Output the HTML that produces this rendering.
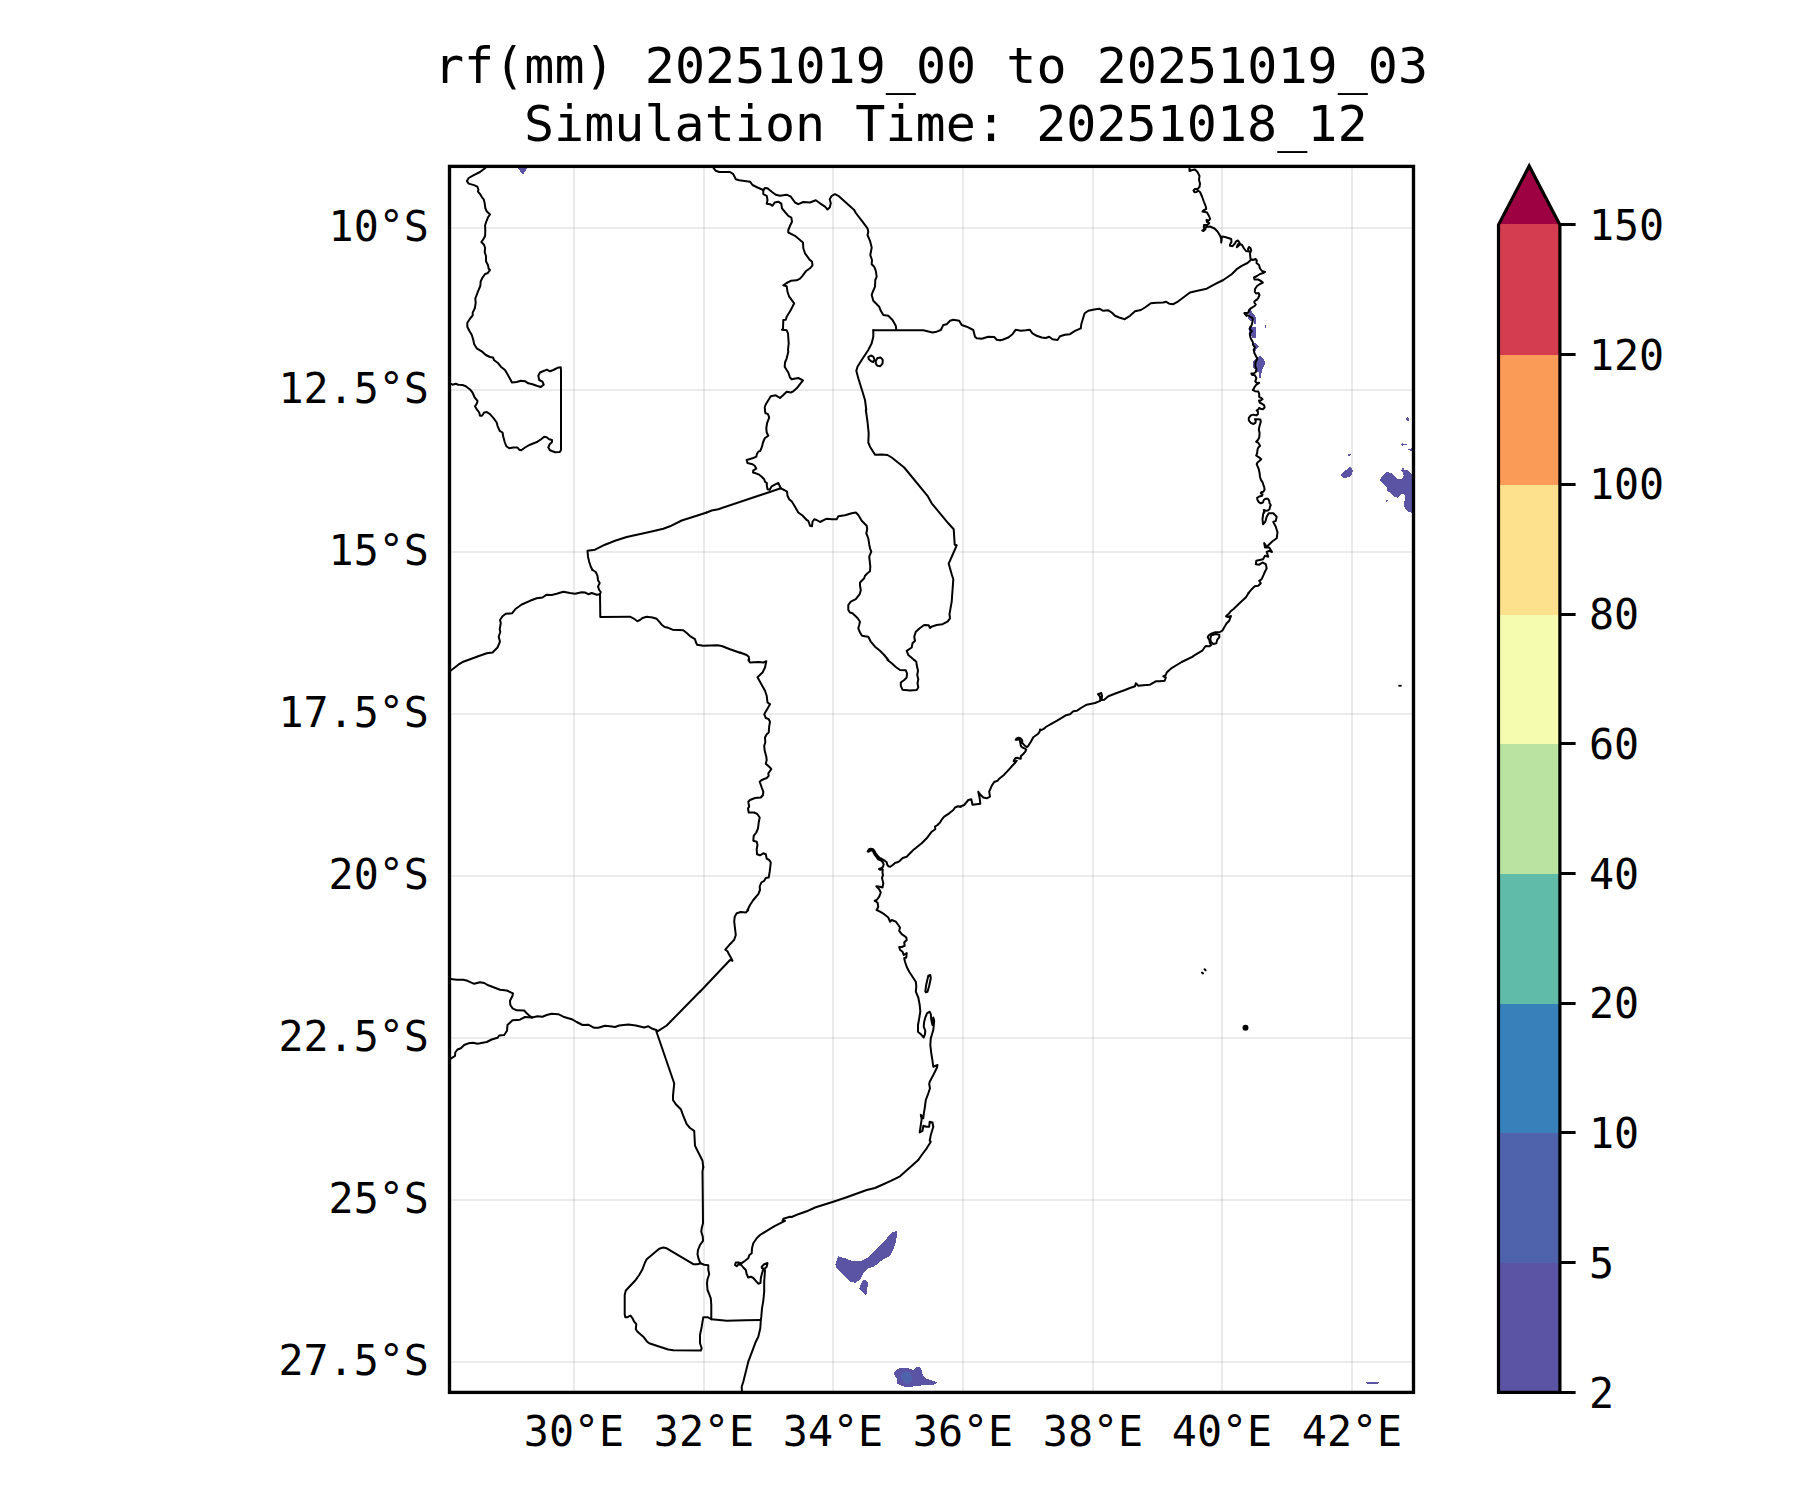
<!DOCTYPE html>
<html lang="en"><head><meta charset="utf-8"><title>rf(mm) 20251019_00 to 20251019_03</title>
<style>html,body{margin:0;padding:0;background:#fff}body{width:1800px;height:1500px;overflow:hidden}svg{display:block}text{font-family:"DejaVu Sans Mono","Liberation Mono",monospace;fill:#000}.t{font-size:50px}.l{font-size:41.67px}</style></head><body>
<svg width="1800" height="1500" viewBox="0 0 1800 1500">
<rect width="1800" height="1500" fill="#fff"/>
<text class="t" x="434.0" y="83" letter-spacing="0.0212">rf(mm) 20251019_00 to 20251019_03</text>
<text class="t" x="523.97" y="140.6" letter-spacing="0.0246">Simulation Time: 20251018_12</text>
<defs><clipPath id="ax"><rect x="449.5" y="166.4" width="964.0" height="1226.0"/></clipPath></defs>
<g clip-path="url(#ax)">
<g shape-rendering="crispEdges">
<path d="M518.0 165.3 527.3 165.3 527.3 168.3 522.9 174.9 518.0 168.3Z" fill="#5b53a4"/>
<path d="M838.3 1256.3 845.0 1258.3 853.3 1261.3 860.0 1261.3 866.7 1258.3 875.0 1250.8 883.3 1242.5 891.7 1232.5 896.7 1230.8 897.5 1233.3 895.8 1241.7 893.3 1250.0 889.2 1256.7 883.3 1259.2 878.3 1263.3 873.3 1266.7 867.5 1268.7 863.3 1273.3 860.0 1280.0 855.0 1282.8 850.0 1281.7 843.3 1275.0 836.7 1268.3 835.3 1265.0 836.7 1260.0Z" fill="#5b53a4"/>
<path d="M862.5 1281.3 865.0 1279.2 867.5 1281.7 868.3 1285.0 866.7 1288.3 867.0 1294.2 865.0 1294.7 859.2 1288.3Z" fill="#5b53a4"/>
<path d="M1248.0 309.3 1250.4 309.0 1251.0 310.8 1253.7 314.1 1255.2 316.2 1256.1 317.4 1256.1 323.7 1254.0 323.7 1253.9 320.4 1250.4 320.7 1248.0 318.0 1249.2 315.0 1248.0 312.0Z" fill="#5b53a4"/>
<path d="M1249.1 326.4 1250.7 326.1 1251.0 327.3 1255.9 327.3 1255.9 330.9 1257.0 331.2 1255.9 331.8 1255.9 337.5 1252.2 337.7 1251.6 336.0 1249.2 335.4 1249.1 330.0Z" fill="#5b53a4"/>
<path d="M1254.0 343.8 1255.2 342.9 1258.8 346.5 1257.3 348.0 1255.5 350.7 1254.3 350.7 1253.7 347.4Z" fill="#5b53a4"/>
<path d="M1253.1 361.5 1254.6 359.4 1257.3 357.6 1259.4 356.1 1260.9 356.1 1263.0 358.2 1264.8 361.2 1264.8 363.6 1263.9 366.9 1262.7 368.7 1261.7 370.8 1261.7 372.9 1260.9 373.1 1260.7 377.7 1259.3 377.7 1259.1 372.9 1257.3 371.4 1255.2 369.0 1253.1 367.8Z" fill="#5b53a4"/>
<path d="M1265.1 325.1 1266.0 325.1 1266.0 327.9 1265.1 327.9Z" fill="#5b53a4"/>
<path d="M1406.0 418.8 1407.4 417.0 1408.8 418.4 1408.8 420.6 1407.2 420.6Z" fill="#5b53a4"/>
<path d="M1401.2 444.4 1402.8 443.2 1404.0 443.8 1406.8 444.0 1406.8 444.8 1404.0 445.0 1402.8 445.8Z" fill="#5b53a4"/>
<path d="M1408.0 449.4 1410.8 448.8 1412.0 448.0 1414.4 448.0 1414.4 451.6 1412.0 451.6 1410.4 450.8Z" fill="#5b53a4"/>
<path d="M1348.0 454.6 1351.0 454.0 1349.6 455.6 1348.4 455.8Z" fill="#5b53a4"/>
<path d="M1341.0 475.0 1345.6 470.4 1350.0 467.0 1351.6 467.8 1352.8 470.8 1351.8 475.2 1348.8 477.4 1343.6 477.8Z" fill="#5b53a4"/>
<path d="M1380.0 480.4 1381.2 477.2 1386.0 472.4 1388.0 472.0 1392.0 473.6 1397.2 478.8 1402.0 478.8 1403.6 476.0 1403.2 472.8 1401.2 470.4 1402.0 468.4 1403.6 468.2 1404.0 469.8 1407.6 470.2 1412.0 474.0 1415.2 474.0 1415.2 512.8 1412.0 512.8 1407.6 511.6 1404.0 506.4 1404.4 501.6 1405.2 498.4 1404.8 494.8 1401.6 494.0 1397.6 497.6 1394.4 496.6 1387.2 490.4 1386.8 487.2 1381.0 481.6Z" fill="#5b53a4"/>
<path d="M1386.0 500.4 1388.0 500.0 1386.8 501.8 1386.0 501.6Z" fill="#5b53a4"/>
<path d="M894.0 1373.3 895.7 1370.3 898.7 1368.7 901.3 1368.0 907.3 1368.0 911.3 1369.3 913.3 1369.7 916.0 1367.3 919.7 1367.0 921.3 1368.7 922.0 1372.0 923.3 1376.0 926.7 1378.7 932.0 1380.7 938.0 1382.1 936.0 1383.7 932.7 1384.8 922.0 1384.8 920.7 1385.7 914.0 1385.9 913.3 1386.7 904.7 1386.8 901.3 1385.9 898.7 1384.3 897.0 1383.7 897.0 1378.7 895.0 1376.3 894.0 1374.7Z" fill="#5b53a4"/>
<path d="M901.0 1374.7 902.7 1372.7 906.0 1371.9 908.7 1372.5 910.7 1374.7 912.7 1378.3 911.3 1381.0 910.0 1383.3 907.3 1384.0 905.3 1383.0 903.0 1380.7 901.3 1378.7Z" fill="#4e63ac"/>
<path d="M1365.1 1382.0 1378.9 1382.0 1377.8 1383.9 1367.1 1383.9Z" fill="#5b53a4"/>
</g>
<g stroke="#808080" stroke-opacity="0.16" stroke-width="2" fill="none" shape-rendering="crispEdges">
<line x1="574" y1="166.4" x2="574" y2="1392.4"/>
<line x1="704" y1="166.4" x2="704" y2="1392.4"/>
<line x1="833" y1="166.4" x2="833" y2="1392.4"/>
<line x1="963" y1="166.4" x2="963" y2="1392.4"/>
<line x1="1093" y1="166.4" x2="1093" y2="1392.4"/>
<line x1="1222" y1="166.4" x2="1222" y2="1392.4"/>
<line x1="1352" y1="166.4" x2="1352" y2="1392.4"/>
<line x1="449.5" y1="228" x2="1413.5" y2="228"/>
<line x1="449.5" y1="390" x2="1413.5" y2="390"/>
<line x1="449.5" y1="552" x2="1413.5" y2="552"/>
<line x1="449.5" y1="714" x2="1413.5" y2="714"/>
<line x1="449.5" y1="876" x2="1413.5" y2="876"/>
<line x1="449.5" y1="1038" x2="1413.5" y2="1038"/>
<line x1="449.5" y1="1200" x2="1413.5" y2="1200"/>
<line x1="449.5" y1="1362" x2="1413.5" y2="1362"/>
</g>
<g stroke="#000" stroke-width="2" fill="none" stroke-linejoin="round" stroke-linecap="round">
<path d="M485.3 168.0 480.0 172.0 473.3 175.3 468.7 178.0 466.9 181.1 468.7 183.6 474.0 185.1 477.3 186.7 478.4 189.3 478.0 191.7 480.0 194.0 482.0 197.3 483.7 199.3 484.7 203.3 485.3 208.0 486.7 211.3 490.0 214.4 488.0 217.3 486.4 221.3 485.1 225.3 485.3 230.7 485.1 236.0 483.3 239.3 481.3 242.0 484.0 244.7 485.1 248.0 484.7 252.0 486.0 256.0 486.0 261.3 488.0 265.3 488.7 268.7 490.0 270.0 487.7 273.1 485.1 274.0 482.7 277.3 480.7 281.3 480.3 286.0 478.0 291.3 476.3 296.0 475.3 298.7 475.7 302.7 474.9 308.0 472.7 312.7 472.7 315.3 470.0 318.7 467.3 322.7 467.3 326.7 469.3 330.7 471.7 334.7 473.1 339.3"/>
<path d="M473.3 340.0 474.2 344.2 476.7 348.3 481.7 351.3 485.8 355.0 490.0 357.0 493.0 357.5 494.2 360.3 498.3 363.3 500.8 366.7 505.0 370.0 507.5 374.2 510.0 378.7 512.0 382.5 516.7 382.0 520.8 380.8 525.0 381.2 528.3 383.3 532.5 384.2 536.7 385.8 540.8 387.0 543.7 384.7 542.5 381.7 539.2 380.0 538.3 375.8 540.0 372.5 544.2 370.8 546.7 369.7 550.0 371.3 553.3 370.0 557.5 367.8 560.7 367.2 561.0 370.0 561.0 406.7 561.0 450.0 559.8 452.0 555.0 452.2 550.0 450.3 548.3 447.5 549.7 444.2 552.0 442.0 552.0 440.0 549.2 439.2 546.7 437.2 544.2 436.7 540.8 439.5 537.5 441.7 530.0 444.7 525.0 447.5 521.3 450.3 519.2 449.7 517.5 447.5 513.3 447.5 509.2 448.3 506.3 446.2 504.7 442.0 503.3 436.7 502.5 432.5 499.7 430.8 497.5 425.8 496.7 422.5 493.7 418.3 490.0 414.2 486.7 412.0 484.2 412.5 482.0 415.8 480.0 415.8 479.2 412.5 477.0 409.7 475.0 406.3 477.0 403.3 477.5 400.8 474.7 397.5 472.5 392.5 469.7 389.2 465.8 386.2 462.5 385.0 458.3 384.7 455.8 383.7 452.5 384.7 449.2 383.0"/>
<path d="M706.7 512.5 696.7 515.8 681.7 520.5 670.0 526.3 663.3 528.7 648.3 532.2 626.7 537.0 615.0 540.8 605.0 544.7 595.0 549.7 587.5 550.8 588.0 556.7 589.2 561.7 590.8 566.7 592.5 570.0"/>
<path d="M592.5 570.0 595.8 572.0 597.5 575.8 598.0 580.3 599.7 583.0 598.0 586.7 599.2 590.0 600.8 592.0 600.0 594.2 600.3 617.0 630.0 616.7 633.3 618.3 637.5 621.2 640.0 620.0 642.5 618.0 646.7 616.7 652.5 617.5 656.7 618.8 659.2 621.7 661.7 624.7 664.7 627.0 668.3 627.8 672.5 629.7 678.3 630.0 683.3 630.3 686.7 633.0 690.8 636.7 695.0 639.2 695.8 642.0 697.0 644.7 703.3 645.8 710.0 645.5 717.5 645.3 721.7 646.0 730.0 649.2 740.0 652.8"/>
<path d="M600.0 594.2 596.7 594.7 591.7 593.0 588.3 594.2 585.0 592.5 581.7 592.2 575.0 593.8 570.0 593.0 563.3 591.7 556.7 593.8 551.7 595.0 546.7 594.7 542.5 597.5 536.7 598.3 530.0 600.8 521.7 604.5 515.8 608.7 512.0 613.3 505.8 613.8 502.5 616.3 500.0 620.0 500.8 623.0 499.7 629.2 500.3 632.0 498.7 636.7 500.0 641.7 497.5 647.5 492.5 652.5 486.7 653.3 478.3 656.2 463.3 661.7 458.3 664.7 448.3 672.5"/>
<path d="M448.3 978.7 456.7 979.7 463.3 979.7 467.5 980.8 474.2 983.8 480.0 982.2 484.2 983.0 488.3 985.3 500.0 989.7 506.7 990.5 513.0 993.3 512.5 995.8 510.0 1000.8 510.3 1005.0 512.5 1008.3 516.7 1010.3 524.2 1010.5 526.7 1013.3 529.2 1015.5 532.0 1017.5"/>
<path d="M532.0 1017.5 537.5 1016.2 542.5 1016.7 546.7 1015.0 551.7 1013.8 558.3 1014.2 563.3 1016.7 571.7 1019.2 576.7 1022.0 582.5 1025.0 588.3 1024.7 594.2 1027.8 598.3 1027.8 605.0 1025.8 610.0 1026.2 615.0 1027.0 619.2 1025.5 628.3 1024.5 635.8 1025.5 644.2 1027.5 648.3 1026.3 652.5 1028.8 656.3 1030.0 657.5 1031.3"/>
<path d="M657.5 1031.3 666.7 1025.5 700.0 991.5"/>
<path d="M656.3 1031.3 673.3 1080.8 674.2 1083.3 673.0 1095.8 673.0 1100.0 675.8 1104.2 680.8 1109.2 683.3 1115.8 686.7 1124.2 690.0 1128.0 694.2 1130.8 694.7 1140.0 695.0 1145.8 702.5 1160.8 703.3 1167.5"/>
<path d="M532.0 1017.5 525.0 1017.0 520.0 1019.7 512.5 1020.3 507.5 1025.0 507.0 1030.8 504.2 1035.0 499.2 1035.5 497.5 1037.8 491.7 1039.5 486.7 1042.0 480.0 1043.3 477.5 1043.7 473.3 1042.8 468.3 1043.3 464.2 1045.0 460.8 1048.3 457.5 1049.5 455.3 1052.5 455.0 1055.8 448.3 1060.3"/>
<path d="M703.3 1166.7 702.5 1171.7 702.8 1200.0 703.0 1223.3 701.7 1228.3 701.3 1231.7 702.8 1236.7 703.0 1240.8 700.0 1245.0 698.0 1250.0 697.5 1254.2 698.7 1259.2 700.5 1263.3 704.2 1264.7 708.3 1265.3 708.3 1270.0 709.2 1274.2 707.5 1279.2 707.0 1283.3 707.5 1290.0 709.2 1294.2 710.8 1298.3 711.3 1305.0 711.3 1319.2 716.7 1319.7 726.7 1320.8 745.0 1320.3 760.8 1320.0"/>
<path d="M700.5 1263.3 697.5 1264.2 693.3 1264.2 666.7 1248.3 663.3 1247.5 659.2 1248.7 646.7 1259.2 645.0 1262.5 642.5 1269.2 639.2 1275.0 635.0 1280.8 625.8 1290.5 624.7 1295.0 624.7 1314.2 625.3 1317.2 627.5 1317.2 630.5 1315.5 632.5 1318.3 634.2 1321.7 636.3 1324.2 635.8 1329.2 637.5 1331.7 643.3 1336.7 646.7 1341.2 649.2 1343.3 656.7 1345.8 668.3 1349.5 673.3 1350.3 700.8 1350.5 701.7 1348.3 700.0 1343.3 700.0 1335.0 701.7 1326.7 703.3 1317.2 707.5 1317.2 711.3 1319.2"/>
<path d="M918.3 1160.0 900.0 1176.3 890.8 1180.8 881.7 1185.0 875.0 1188.0 866.7 1190.0 846.7 1197.2 833.3 1201.7 815.0 1207.5 806.7 1211.3 798.3 1214.2 791.7 1217.0 790.0 1216.7 787.5 1217.5 783.3 1218.8 782.5 1220.8 785.0 1220.8 775.0 1225.8 766.7 1230.8 760.0 1235.0 756.7 1238.3 753.3 1243.3 752.0 1248.3 751.7 1253.3 749.2 1255.3 748.3 1258.3 745.0 1260.8 741.3 1263.3 738.3 1262.5 735.8 1262.5 735.0 1265.0 736.7 1266.2 738.7 1264.2 741.3 1265.0 743.3 1267.5 745.8 1270.0 746.7 1274.2 748.3 1277.5 750.8 1276.7 753.3 1278.0 755.8 1280.8 758.3 1283.7 760.5 1283.0 760.8 1278.3 762.0 1273.3 763.0 1270.0 765.0 1270.3 764.2 1281.7 764.2 1291.7 763.3 1300.8 762.0 1308.3 761.3 1316.7 760.8 1320.0 760.3 1328.3 758.3 1336.7 755.8 1341.7 753.3 1348.3 748.3 1361.7 745.8 1371.7 743.3 1381.7 741.7 1386.7 742.0 1393.3"/>
<path d="M761.7 1266.7 764.2 1264.2 767.5 1263.0 766.7 1266.7 765.0 1268.7 762.0 1268.3Z"/>
<path d="M700.0 991.7 730.0 960.0 732.5 960.8 730.8 957.5 728.7 953.7 727.5 951.3 725.3 949.7 730.0 944.2 734.2 939.7 735.8 935.0 735.0 928.3 734.2 921.7 734.7 916.7 736.7 913.3 740.8 912.0 745.8 912.5 748.3 910.0"/>
<path d="M876.7 910.0 880.0 911.7 884.2 914.2 888.3 917.5 890.0 921.7 891.7 920.0 895.8 921.7 898.3 925.0 900.0 927.5 899.2 930.8 901.7 934.2 904.2 935.8 906.3 937.5 906.7 940.0 904.2 942.5 904.7 945.8 901.7 947.0 899.2 947.0 900.0 949.7 902.5 951.7 903.7 955.0 906.7 953.0 906.3 957.5 904.2 958.3 905.0 961.7 906.7 966.7 909.2 971.7 912.5 976.7 915.8 981.7 916.3 986.7 915.8 991.7 918.3 997.5 919.7 1005.0 920.3 1011.7 919.2 1018.3 918.0 1025.0 918.0 1031.7 920.8 1034.2 923.7 1037.5 925.0 1034.2 925.3 1030.8 923.7 1026.7 924.2 1021.7 925.3 1017.5 927.0 1013.3 929.7 1011.7 930.8 1014.2 931.3 1020.0 932.5 1025.0 933.3 1017.5 934.2 1020.8 933.3 1030.0 930.8 1038.3 930.3 1045.0 931.3 1053.3 932.5 1060.8 933.3 1066.7 937.5 1065.0 937.0 1067.5 933.3 1075.0 929.7 1081.7 929.2 1084.2 930.0 1088.3 928.3 1093.3 925.8 1100.0 924.7 1108.3 923.7 1114.2 923.3 1118.3 920.8 1114.7 921.7 1119.2 920.8 1125.0 919.7 1132.5 922.5 1130.8 923.3 1125.8 926.7 1126.7 929.2 1126.7 929.7 1121.7 932.5 1122.5 933.3 1126.7 930.8 1135.0 929.7 1140.8 930.8 1141.7 926.7 1148.3 921.7 1155.0 918.3 1160.0"/>
<path d="M925.3 991.3 926.3 984.2 928.3 975.8 930.3 975.0 930.8 978.3 929.2 985.8 927.5 991.7 925.8 992.2Z"/>
<path d="M747.5 910.0 750.0 905.0 753.3 900.0 758.3 894.2 760.0 890.0 759.7 886.7 761.3 882.5 764.2 880.8 765.8 878.0 768.7 877.5 769.7 871.7 770.8 862.5 769.2 860.0 766.7 858.7 765.8 854.2 763.3 853.3 760.0 855.3 757.0 854.2 756.7 849.2 757.5 845.0 756.7 841.7 753.3 840.8 753.7 835.8 756.3 832.5 758.0 828.3 758.7 822.5 759.7 817.5 757.5 814.2 754.2 812.5 748.7 812.5 748.0 808.3 749.2 806.7 748.3 801.7 750.0 800.0 755.0 798.0 760.8 797.5 763.0 795.0 763.3 791.7 761.7 787.5 759.7 781.7 761.7 780.0 766.7 778.0 768.7 775.8 768.3 773.3 771.3 769.2 769.2 766.7 765.8 763.7 766.7 760.0 766.3 756.7 764.7 750.8 764.2 745.8 765.3 742.5 765.0 737.5 766.7 734.2 768.7 732.5 769.2 726.7 770.0 721.7 768.7 719.2 765.8 718.0 764.2 714.2 766.7 710.0 770.0 704.2 767.5 702.5 766.7 695.8 765.0 690.8 757.5 677.2 762.5 672.5 765.0 667.5 766.3 661.3 763.3 662.5 758.3 662.0 750.0 662.5 748.3 660.0"/>
<path d="M887.5 660.0 891.7 663.3 895.8 667.0 900.0 670.0 905.8 670.3 907.0 673.3 906.7 677.5 904.2 680.0 900.8 682.5 900.8 685.8 902.5 689.7 910.0 690.5 916.7 690.0 918.3 687.5 917.5 683.3 918.3 679.2 917.2 675.0 918.0 670.8 916.7 665.0 916.3 661.7 914.2 660.0"/>
<path d="M960.8 806.7 958.0 806.3 955.0 807.5 953.3 810.0 949.2 813.3 944.2 816.7 941.7 819.7 940.0 822.5 937.5 825.0 935.0 826.7 935.3 829.2 931.7 831.7 926.7 838.3 921.7 843.3 913.3 850.0 910.0 853.3 906.7 856.7 902.7 858.0 899.3 861.3 896.7 862.5 895.3 862.8 892.7 865.0 890.3 866.7 888.3 866.2 887.2 864.7 886.7 862.3 884.7 860.7 882.0 859.0 879.7 858.0 878.0 856.3 875.7 853.3 874.3 850.7 873.0 849.2 870.7 848.7 869.0 849.3 867.7 851.3 868.7 851.7 870.7 850.3 873.0 851.0 874.0 853.7 876.0 856.3 878.0 859.3 880.7 860.3 882.7 862.0 883.7 864.3 883.0 866.7 881.7 868.0 879.0 869.0 880.0 869.7 882.7 869.3 882.5 872.7 883.0 875.3 882.0 877.7 882.5 880.0 883.3 883.3 882.5 887.5 880.0 886.7 876.3 886.3 879.2 889.2 880.8 892.5 879.2 896.7 876.7 900.0 874.7 900.8 877.5 902.5 878.3 906.7 876.7 910.0"/>
<path d="M706.7 512.5 711.7 510.5 718.3 509.2 780.8 488.3"/>
<path d="M780.8 488.3 778.3 483.0 775.8 484.2 771.7 486.3 769.7 489.7 767.5 489.2 766.7 485.0 767.0 483.3 765.0 481.7 764.2 479.2 761.7 476.7 759.2 474.7 755.8 473.3 753.0 472.5 753.3 470.3 756.3 468.7 754.7 465.8 752.5 464.2 747.5 463.0 746.7 460.0 749.2 459.2 753.3 458.0 756.3 456.7 757.0 453.7 758.3 451.7 760.3 450.8 762.0 446.7 763.0 442.5 764.7 438.3 768.3 435.8 766.7 432.5 766.3 428.3 767.0 423.3 769.2 417.5 768.0 414.2 765.3 413.0 765.0 410.0"/>
<path d="M780.8 488.3 784.2 490.0 787.0 491.7 787.5 495.8 789.2 499.2 792.0 501.7 795.0 506.7 798.3 512.5 802.5 515.5 806.7 520.0 808.3 520.8 810.0 525.8 812.0 526.2 812.5 521.7 814.2 519.2 816.7 520.0 820.0 522.0 826.7 518.7 831.7 519.2 836.7 519.2 838.3 516.3 845.0 515.3 851.7 513.3 855.8 512.5 858.3 515.0 861.7 520.8 866.7 525.8 867.2 529.2 866.3 533.3 868.3 538.3 869.2 544.2 870.0 548.3 871.3 551.7 869.2 556.7 869.7 560.8 870.3 566.7 870.0 571.3 867.5 573.3 865.0 575.8 864.2 578.3 860.0 582.5 860.0 585.8 860.8 590.0 859.7 594.2 855.8 599.2 850.8 601.7 848.3 605.0 848.3 610.0 850.0 612.5 852.5 613.3 857.5 618.0 860.0 621.7 859.2 625.0 858.3 628.3 860.0 632.5 862.0 635.8 865.0 636.3 868.3 636.7 870.8 641.7 875.0 646.7 880.0 650.8 884.2 655.0 888.3 660.0"/>
<path d="M865.8 410.0 867.5 421.7 868.7 433.3 868.3 442.5 870.0 446.7 875.0 454.7 881.7 454.5 887.5 455.0 891.7 457.5 904.2 467.5 927.5 495.8 931.7 503.3 940.0 513.3 948.3 523.3 953.7 529.2 954.2 536.7 954.7 544.7 956.7 545.3 952.5 555.0 948.7 563.7 951.7 574.2 953.3 579.2 951.7 601.7 949.5 614.2 950.0 618.3 947.5 621.7 942.5 624.2 936.7 625.0 931.3 626.7 930.0 628.0 928.7 625.3 924.2 625.0 920.0 628.0 915.8 631.7 914.2 636.7 915.0 640.8 912.5 643.3 911.7 647.5 906.7 650.8 908.3 655.0 914.2 660.0"/>
<path d="M740.0 652.5 746.7 655.0 748.7 656.7 749.2 660.0"/>
<path d="M712.5 166.7 715.8 170.8 719.2 172.0 730.0 172.0 733.3 174.2 735.8 179.2 739.2 180.3 750.0 181.7 752.5 185.0 757.5 187.5 763.3 190.0"/>
<path d="M763.3 190.0 763.3 194.2 766.7 195.8 767.5 200.0 766.7 203.7 770.0 204.2 772.5 205.8 774.7 202.5 778.3 201.7 781.3 203.7 782.0 208.3 785.0 212.0 788.3 215.8 791.3 217.5 792.0 221.7 790.0 225.8 788.3 230.0 788.3 232.5 795.0 235.8 800.0 240.0 803.0 242.5 803.3 248.3 805.0 253.3 809.2 259.2 812.0 261.7 812.5 265.3 810.0 268.3 805.8 271.3 802.5 275.8 800.0 278.7 796.7 280.3 790.8 280.8 786.7 283.0 783.3 285.3 786.7 286.3 787.5 291.7 789.2 296.7 794.2 303.3 790.8 310.0 786.7 316.7 785.8 319.7 783.3 320.0 783.0 329.2 782.0 329.7 786.7 330.3 788.0 333.3 788.7 343.3 788.0 350.0 788.3 351.7 786.7 358.3 785.0 362.5 784.7 366.7 786.7 370.0 788.3 372.5 790.0 377.5 791.7 379.2 798.3 378.0 803.0 380.3 800.0 384.2 796.7 388.3 793.3 391.3 790.8 392.5 786.7 391.7 783.3 395.0 780.0 398.0 775.8 395.3 770.8 396.3 765.8 404.2 764.7 407.5 765.0 410.0"/>
<path d="M763.3 190.0 765.0 188.0 767.5 188.3 771.7 191.7 775.8 194.7 780.0 195.8 786.7 194.7 790.8 196.7 795.0 202.5 798.3 204.2 803.3 202.0 810.0 202.5 815.8 200.3 820.0 203.3 825.0 206.7 827.5 209.5 829.7 207.5 830.8 203.3 829.7 199.2 831.7 195.8 835.0 194.2 838.3 195.8 845.0 201.7 854.2 210.0 855.8 213.0 862.5 221.7 867.5 228.3 868.3 232.0 867.5 235.0 870.0 240.8 871.7 247.5 870.3 255.0 872.0 260.0 871.7 264.2 874.2 266.7 875.8 270.8 876.7 276.7 875.3 280.0 875.0 286.7 872.5 292.5 871.7 295.0 873.3 300.8 879.2 306.7 880.8 310.8 883.3 315.0 888.3 315.8 892.5 320.0 895.8 325.8 896.3 330.0"/>
<path d="M873.3 330.3 896.3 330.3 923.3 330.3 927.5 331.3 932.5 332.5 936.7 331.7 940.8 330.0 943.3 325.0 946.7 324.2 950.0 320.8 953.3 319.7 959.2 320.8 961.7 325.0 966.7 326.7 973.3 330.0 975.0 336.7 976.7 338.3 981.7 338.7 988.3 336.7 994.2 337.0 996.7 339.7 1000.0 340.3"/>
<path d="M873.3 330.0 873.3 336.7 871.7 343.3 868.3 350.0 861.7 360.0 857.5 366.7 856.3 370.8 858.3 378.3 862.5 391.7 865.0 400.0 866.3 410.0"/>
<path d="M868.3 357.0 870.8 355.5 873.3 356.7 874.5 359.7 873.3 362.0 871.2 361.3 868.8 359.3Z"/>
<path d="M875.8 360.8 877.5 358.0 880.8 357.5 882.8 360.0 882.5 363.7 880.3 366.2 877.5 365.8 875.8 363.7Z"/>
<path d="M1000.0 340.3 1002.5 339.7 1008.3 337.5 1012.5 334.2 1015.8 329.7 1020.8 330.8 1025.8 330.3 1029.7 329.7 1032.5 333.3 1036.7 335.8 1041.7 337.5 1045.8 338.0 1049.2 336.7 1052.5 339.2 1057.5 340.0 1060.0 336.3 1065.0 334.7 1070.0 334.2 1075.0 330.8 1080.8 328.3 1081.3 324.2 1083.3 317.5 1084.7 313.3 1088.3 310.8 1094.2 309.5 1099.2 308.7 1103.3 310.8 1108.3 310.3 1111.7 312.5 1115.0 315.8 1119.2 317.5 1124.7 319.2 1130.0 315.8 1135.0 311.3 1140.8 310.0 1145.0 307.5 1150.8 303.3 1156.7 302.8 1163.3 302.5 1165.8 301.7 1169.2 303.7 1173.3 304.2 1178.3 301.3 1190.0 292.5 1197.5 290.8 1206.7 288.7 1215.0 284.2 1223.3 280.0 1231.7 274.2 1236.7 269.2 1241.7 265.8 1247.5 263.0 1250.8 260.0"/>
<path d="M1189.5 166.0 1189.5 171.0 1192.5 170.0 1195.0 169.5 1197.5 172.0 1199.5 176.0 1199.0 180.0 1200.0 183.5 1199.5 187.0 1197.5 189.0 1195.0 189.0 1193.5 190.5 1194.5 192.2 1196.5 192.0 1198.0 190.5 1200.0 192.0 1202.0 196.5 1204.0 202.0 1205.8 206.5 1206.2 209.0 1204.0 210.0 1202.5 211.5 1205.0 212.0 1207.0 212.5 1209.0 216.0 1210.2 219.0 1209.0 220.5 1206.5 220.0 1207.0 222.0 1209.2 223.2 1207.0 225.0 1204.0 225.0 1203.8 227.5 1205.5 229.0 1203.5 231.0 1202.2 230.5 1204.5 229.0 1206.0 227.0 1210.0 226.5 1214.5 228.5 1217.5 231.5 1220.0 235.5 1221.2 239.0 1221.2 242.5 1222.0 236.5 1225.0 237.0 1229.0 238.2 1231.2 239.0 1231.5 242.0 1230.0 244.5 1230.0 245.8 1232.5 246.2 1234.5 244.0 1236.0 241.5 1238.0 240.5 1239.5 242.5 1237.5 245.0 1236.8 247.2 1238.5 246.0 1240.0 244.0 1242.0 245.0 1244.0 248.5 1246.0 251.0 1249.0 251.5 1248.0 249.0 1249.0 247.0 1250.5 248.0 1251.2 250.5 1250.0 253.5 1250.5 259.0 1253.0 260.0 1255.5 259.0 1256.8 260.5 1256.5 263.0 1259.0 265.0 1260.0 268.5 1262.0 271.0 1265.0 272.0 1263.5 273.0 1260.0 274.0 1257.0 276.0 1254.0 277.5 1254.5 279.5 1258.0 279.5 1261.0 281.0 1262.8 282.5 1260.0 284.0 1257.0 286.0 1255.0 289.0 1254.8 292.0 1256.0 293.5 1258.5 293.0 1259.5 295.0 1258.0 298.5 1256.4 300.0"/>
<path d="M1256.4 300.0 1254.3 301.5 1254.6 303.0 1255.8 304.5 1254.6 306.0 1250.4 308.7 1248.9 310.8 1248.0 312.9 1244.4 313.1 1245.3 314.4 1246.5 315.9 1248.0 315.3 1249.8 316.5 1252.5 318.0 1252.8 320.4 1251.6 325.2 1250.7 327.0 1249.5 328.8 1251.9 331.2 1249.8 333.6 1250.1 336.0 1251.0 339.0 1252.8 342.0 1253.1 345.0 1254.9 347.4 1253.7 349.8 1254.3 352.8 1256.4 357.0 1257.3 358.8 1255.5 362.4 1255.2 366.0 1256.4 369.0 1255.8 372.0 1253.7 373.5 1251.3 373.5 1252.2 375.0 1254.6 375.0 1256.4 378.0 1255.2 381.6 1257.0 383.1 1259.1 382.8 1256.4 384.6 1254.6 387.0 1253.1 390.0"/>
<path d="M1252.9 390.0 1255.0 391.2 1258.3 391.5 1259.2 393.8 1259.2 397.1 1261.2 397.9 1262.5 399.2 1260.8 400.4 1259.0 400.4 1259.6 402.5 1262.1 403.8 1264.2 405.4 1264.6 407.5 1262.9 409.3 1260.4 408.8 1259.2 407.9 1258.2 409.6 1256.7 410.4 1257.9 411.7 1257.9 414.2 1256.2 415.4 1253.3 414.6 1250.8 415.4 1248.8 417.9 1248.8 420.4 1250.8 422.9 1253.3 424.0 1255.4 422.9 1255.8 420.8 1255.0 419.2 1257.5 419.2 1260.4 419.6 1260.8 421.7 1259.6 425.8 1258.8 429.2 1259.6 433.3 1259.2 437.5 1257.9 440.0 1256.2 441.8 1257.9 442.5 1259.2 444.2 1260.0 446.0 1258.3 447.5 1257.5 449.6 1257.1 453.3 1256.2 455.4 1257.9 456.7 1259.8 457.9 1261.2 459.3 1259.6 460.8 1257.5 462.5 1256.7 464.2 1257.5 466.2 1258.8 469.2 1259.6 473.3 1260.0 476.7 1260.8 479.6 1262.5 482.1 1263.3 484.6 1264.2 487.1 1264.6 489.6 1263.3 491.7 1261.2 492.3 1260.8 493.3 1262.5 494.2 1262.1 495.8 1259.2 496.5 1257.1 497.9 1257.5 500.0 1258.8 502.1 1260.8 503.3 1262.9 502.5 1263.8 500.0 1265.4 498.8 1267.9 498.8 1269.2 500.8 1269.6 503.3 1270.8 505.0 1270.0 506.7 1269.6 509.2 1267.9 510.4 1265.8 510.8 1263.8 510.0 1264.2 512.5"/>
<path d="M1264.2 512.5 1263.3 513.3 1262.5 519.2 1263.0 524.2 1265.3 521.7 1266.7 516.7 1268.7 513.3 1273.3 513.3 1276.7 516.7 1275.8 520.8 1273.3 522.0 1275.8 526.7 1277.5 532.5 1276.7 538.3 1272.5 541.3 1268.3 545.3 1266.7 546.7 1264.2 543.0 1265.0 547.5 1269.2 547.5 1272.0 552.0 1269.2 550.8 1266.7 552.0 1268.3 556.7 1265.0 555.8 1263.0 559.2 1259.7 560.0 1256.3 560.8 1255.8 564.2 1259.2 564.7 1262.5 562.5 1265.8 564.2 1266.7 568.3 1264.2 573.3 1261.7 579.2 1259.2 580.8 1260.8 583.3 1258.3 585.8 1254.7 586.3 1251.7 589.2 1248.3 593.3"/>
<path d="M1248.7 592.7 1246.0 597.3 1240.0 602.7 1233.3 609.3 1230.7 611.3 1229.3 613.3 1226.0 616.3 1228.0 617.0 1231.0 616.0 1229.3 620.7 1226.7 623.3 1224.3 627.3 1222.3 630.7 1220.0 632.0 1215.3 632.3 1211.3 633.7 1208.7 635.3 1207.7 637.3 1209.3 640.0 1210.0 643.3 1211.3 645.0 1209.3 646.3 1205.7 646.0 1203.7 648.7 1202.3 650.7 1196.0 654.3 1193.3 656.0"/>
<path d="M1211.3 635.3 1216.0 634.0 1219.3 634.7 1219.3 637.3 1217.3 639.7 1216.3 643.3 1213.3 644.1 1211.0 642.0 1210.3 638.7Z"/>
<path d="M1193.3 656.3 1181.7 662.0 1170.8 668.7 1166.7 672.5 1165.8 675.0 1163.3 676.3 1165.8 677.5 1164.7 680.8 1160.0 681.3 1155.8 681.3 1150.0 684.7 1143.3 685.3 1138.3 685.8 1135.8 683.3 1135.0 686.3 1130.0 688.0 1125.0 690.0 1116.7 693.0 1108.3 696.3 1104.2 699.7 1101.7 700.0 1102.0 695.8 1101.3 693.0 1098.0 694.2 1100.0 696.7 1100.3 700.8 1095.0 703.0 1086.7 704.7 1081.7 707.5 1076.7 710.8 1073.3 711.3 1070.0 714.2 1065.8 715.3 1056.7 720.8 1050.8 724.2 1045.8 727.0 1044.0 728.7 1041.8 730.0 1040.0 729.5 1039.7 731.7 1038.2 733.7 1033.3 737.2 1030.7 742.0 1028.0 746.3 1026.7 747.0 1024.3 745.2 1022.3 743.0 1022.2 740.3 1020.8 738.5 1018.7 737.7 1016.5 738.5 1015.7 739.8 1017.0 739.8 1019.0 739.3 1020.0 741.0 1020.5 744.2 1021.0 746.3 1022.7 747.7 1025.0 748.7 1026.2 749.5 1025.3 751.7 1023.2 754.0 1020.8 756.3 1020.8 758.8 1019.2 758.5 1017.3 757.7 1015.7 758.0 1014.3 759.7 1013.7 761.2 1014.7 761.7 1016.8 760.7 1014.7 763.3 1012.0 766.0 1010.0 768.3 1004.2 774.7 999.2 778.7 997.5 780.8 994.2 782.0 991.7 785.8 989.2 791.7 990.0 796.7 986.7 798.3 983.3 797.5 980.0 794.2 978.3 791.7 979.7 798.3 980.3 803.7 976.7 804.2 972.5 804.7 971.3 799.2 968.3 800.0 964.2 805.0 960.0 806.7"/>
<circle cx="1245.5" cy="1027.7" r="2.0" fill="#000"/>
<path d="M1204.6 969.3l1 1M1202 972.6l1 0.8"/>
<path d="M1399.2 685.8h1.6"/>
</g>
</g>
<rect x="449.5" y="166.4" width="964.0" height="1226.0" fill="none" stroke="#000" stroke-width="3.33"/>
<text class="l" transform="translate(428.90 240.80) scale(1 1.044)" text-anchor="end">10°S</text>
<text class="l" transform="translate(428.90 402.80) scale(1 1.044)" text-anchor="end">12.5°S</text>
<text class="l" transform="translate(428.90 564.80) scale(1 1.044)" text-anchor="end">15°S</text>
<text class="l" transform="translate(428.90 726.80) scale(1 1.044)" text-anchor="end">17.5°S</text>
<text class="l" transform="translate(428.90 888.80) scale(1 1.044)" text-anchor="end">20°S</text>
<text class="l" transform="translate(428.90 1050.80) scale(1 1.044)" text-anchor="end">22.5°S</text>
<text class="l" transform="translate(428.90 1212.80) scale(1 1.044)" text-anchor="end">25°S</text>
<text class="l" transform="translate(428.90 1374.80) scale(1 1.044)" text-anchor="end">27.5°S</text>
<text class="l" transform="translate(574.00 1446.00) scale(1 1.044)" text-anchor="middle">30°E</text>
<text class="l" transform="translate(704.00 1446.00) scale(1 1.044)" text-anchor="middle">32°E</text>
<text class="l" transform="translate(833.00 1446.00) scale(1 1.044)" text-anchor="middle">34°E</text>
<text class="l" transform="translate(963.00 1446.00) scale(1 1.044)" text-anchor="middle">36°E</text>
<text class="l" transform="translate(1093.00 1446.00) scale(1 1.044)" text-anchor="middle">38°E</text>
<text class="l" transform="translate(1222.00 1446.00) scale(1 1.044)" text-anchor="middle">40°E</text>
<text class="l" transform="translate(1352.00 1446.00) scale(1 1.044)" text-anchor="middle">42°E</text>
<g shape-rendering="crispEdges">
<rect x="1498.5" y="1262" width="61.4" height="130.4" fill="#5b53a4"/>
<rect x="1498.5" y="1132" width="61.4" height="130.5" fill="#4e63ac"/>
<rect x="1498.5" y="1003" width="61.4" height="129.5" fill="#3880b9"/>
<rect x="1498.5" y="873" width="61.4" height="130.5" fill="#60bba8"/>
<rect x="1498.5" y="743" width="61.4" height="130.5" fill="#bae3a1"/>
<rect x="1498.5" y="614" width="61.4" height="129.5" fill="#f5fbaf"/>
<rect x="1498.5" y="484" width="61.4" height="130.5" fill="#fee18d"/>
<rect x="1498.5" y="354" width="61.4" height="130.5" fill="#fa9b58"/>
<rect x="1498.5" y="224" width="61.4" height="130.5" fill="#d43d4f"/>
</g>
<path d="M1498.5 224 L1529.2 166.0 L1559.9 224 Z" fill="#9e0142"/>
<path d="M1498.5 1392.4 L1498.5 224.8 L1529.2 166.0 L1559.9 224.8 L1559.9 1392.4 Z" fill="none" stroke="#000" stroke-width="3.2" stroke-linejoin="miter"/>
<line x1="1559.9" y1="1392.5" x2="1575.6" y2="1392.5" stroke="#000" stroke-width="3"/>
<text class="l" transform="translate(1588.90 1407.60) scale(1 1.044)" text-anchor="start">2</text>
<line x1="1559.9" y1="1262.5" x2="1575.6" y2="1262.5" stroke="#000" stroke-width="3"/>
<text class="l" transform="translate(1588.90 1277.87) scale(1 1.044)" text-anchor="start">5</text>
<line x1="1559.9" y1="1132.5" x2="1575.6" y2="1132.5" stroke="#000" stroke-width="3"/>
<text class="l" transform="translate(1588.90 1148.14) scale(1 1.044)" text-anchor="start">10</text>
<line x1="1559.9" y1="1003.5" x2="1575.6" y2="1003.5" stroke="#000" stroke-width="3"/>
<text class="l" transform="translate(1588.90 1018.41) scale(1 1.044)" text-anchor="start">20</text>
<line x1="1559.9" y1="873.5" x2="1575.6" y2="873.5" stroke="#000" stroke-width="3"/>
<text class="l" transform="translate(1588.90 888.68) scale(1 1.044)" text-anchor="start">40</text>
<line x1="1559.9" y1="743.5" x2="1575.6" y2="743.5" stroke="#000" stroke-width="3"/>
<text class="l" transform="translate(1588.90 758.95) scale(1 1.044)" text-anchor="start">60</text>
<line x1="1559.9" y1="614.5" x2="1575.6" y2="614.5" stroke="#000" stroke-width="3"/>
<text class="l" transform="translate(1588.90 629.22) scale(1 1.044)" text-anchor="start">80</text>
<line x1="1559.9" y1="484.5" x2="1575.6" y2="484.5" stroke="#000" stroke-width="3"/>
<text class="l" transform="translate(1588.90 499.49) scale(1 1.044)" text-anchor="start">100</text>
<line x1="1559.9" y1="354.5" x2="1575.6" y2="354.5" stroke="#000" stroke-width="3"/>
<text class="l" transform="translate(1588.90 369.76) scale(1 1.044)" text-anchor="start">120</text>
<line x1="1559.9" y1="224.5" x2="1575.6" y2="224.5" stroke="#000" stroke-width="3"/>
<text class="l" transform="translate(1588.90 240.03) scale(1 1.044)" text-anchor="start">150</text>
</svg></body></html>
